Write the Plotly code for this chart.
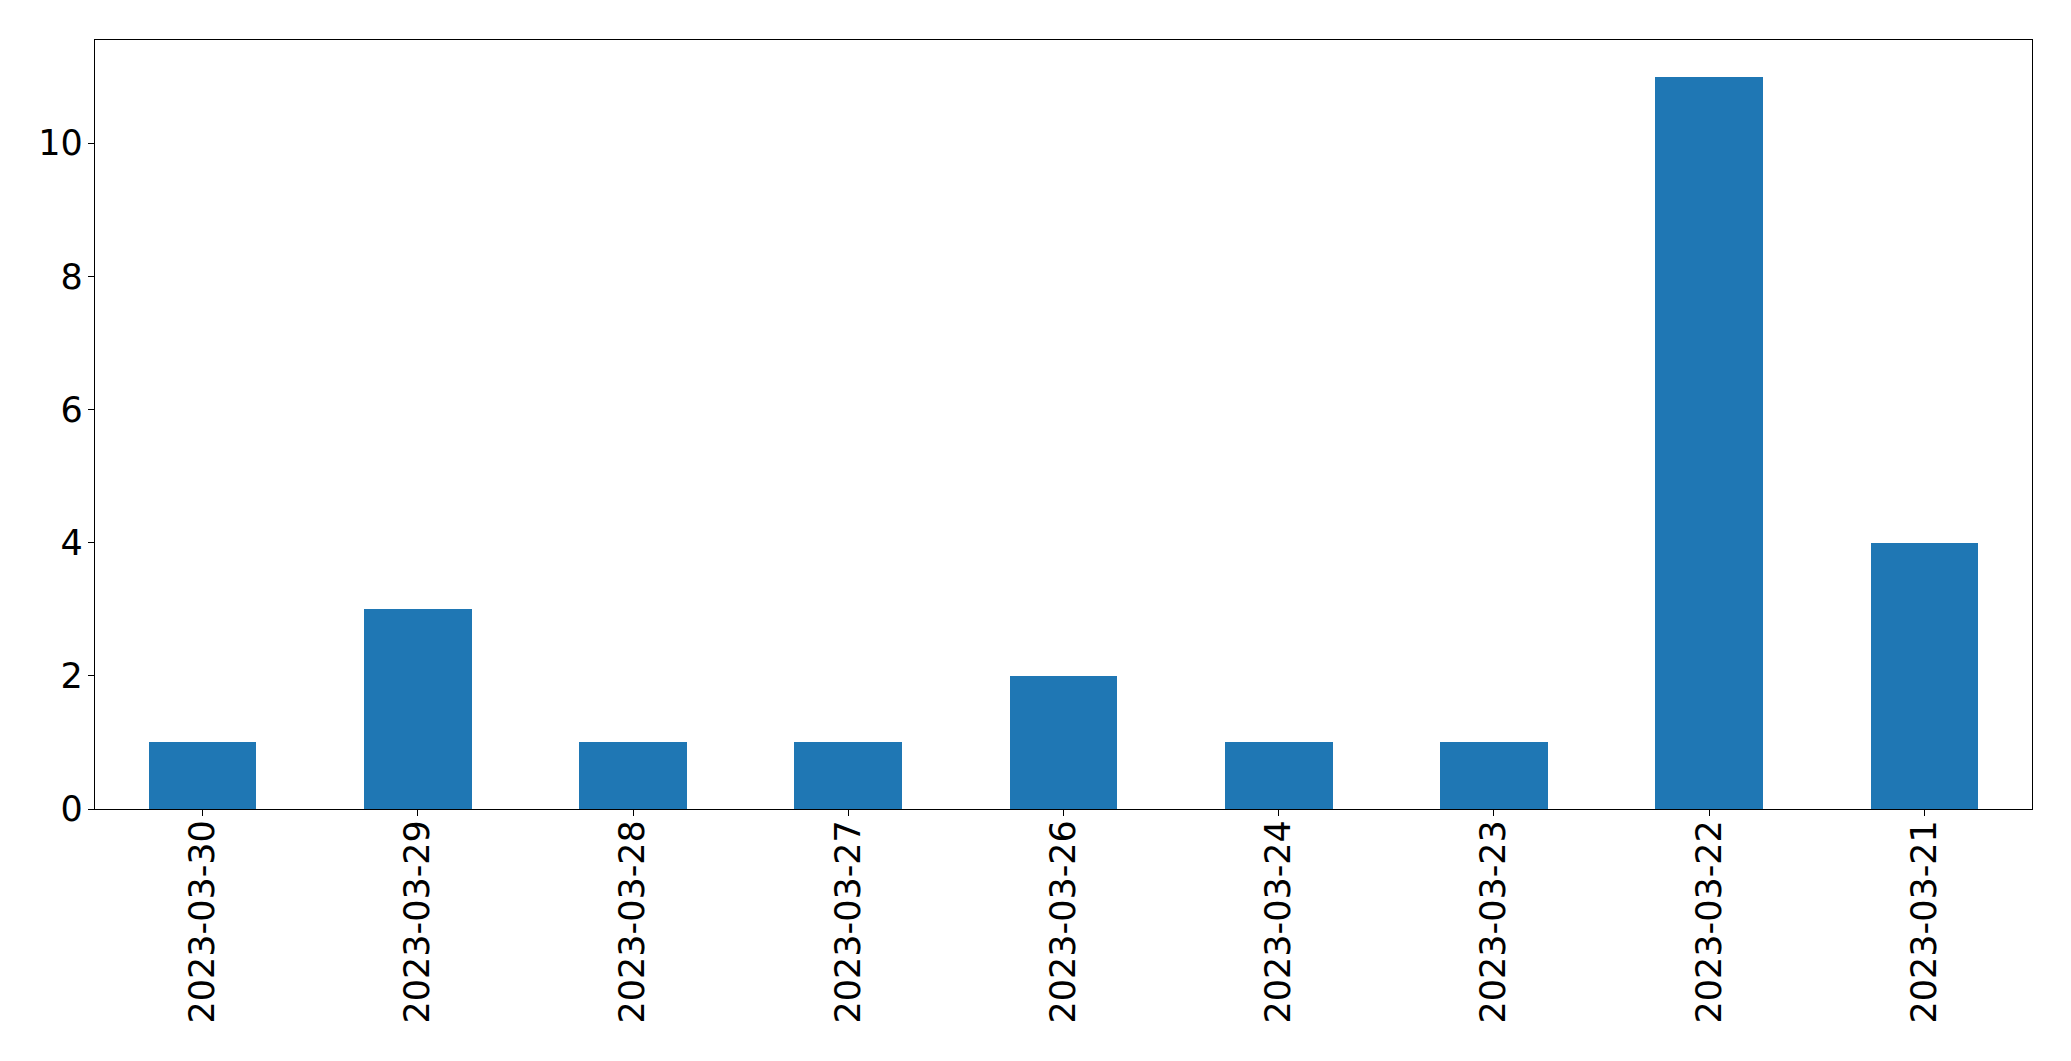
import plotly.graph_objects as go

dates = ["2023-03-30", "2023-03-29", "2023-03-28", "2023-03-27", "2023-03-26",
         "2023-03-24", "2023-03-23", "2023-03-22", "2023-03-21"]
counts = [1, 3, 1, 1, 2, 1, 1, 11, 4]
y_ticks = [0, 2, 4, 6, 8, 10]

fig = go.Figure(go.Bar(x=dates, y=counts, width=0.5, marker=dict(color="#1f77b4", line=dict(width=0))))

font = dict(family="DejaVu Sans", size=35, color="black")
fig.update_layout(
    width=2071, height=1061,
    margin=dict(l=95, r=39, t=40, b=252, pad=0),
    plot_bgcolor="white", paper_bgcolor="white",
    showlegend=False, bargap=0,
    font=font,
)
fig.update_xaxes(
    type="category", range=[-0.5, len(dates) - 0.5],
    showline=True, linecolor="black", linewidth=1.3, mirror=True,
    ticks="outside", ticklen=6, tickwidth=1.3, tickcolor="black",
    tickangle=-90, tickfont=font, showgrid=False, zeroline=False,
    ticklabelstandoff=-10,
)
fig.update_yaxes(
    range=[0, max(counts) * 1.05], tickvals=y_ticks,
    showline=True, linecolor="black", linewidth=1.3, mirror=True,
    ticks="outside", ticklen=6, tickwidth=1.3, tickcolor="black",
    tickfont=font, showgrid=False, zeroline=False,
    ticklabelstandoff=-2,
)
fig.write_html("out.html", config={"displayModeBar": False},
               post_script="document.body.style.margin='0';")
